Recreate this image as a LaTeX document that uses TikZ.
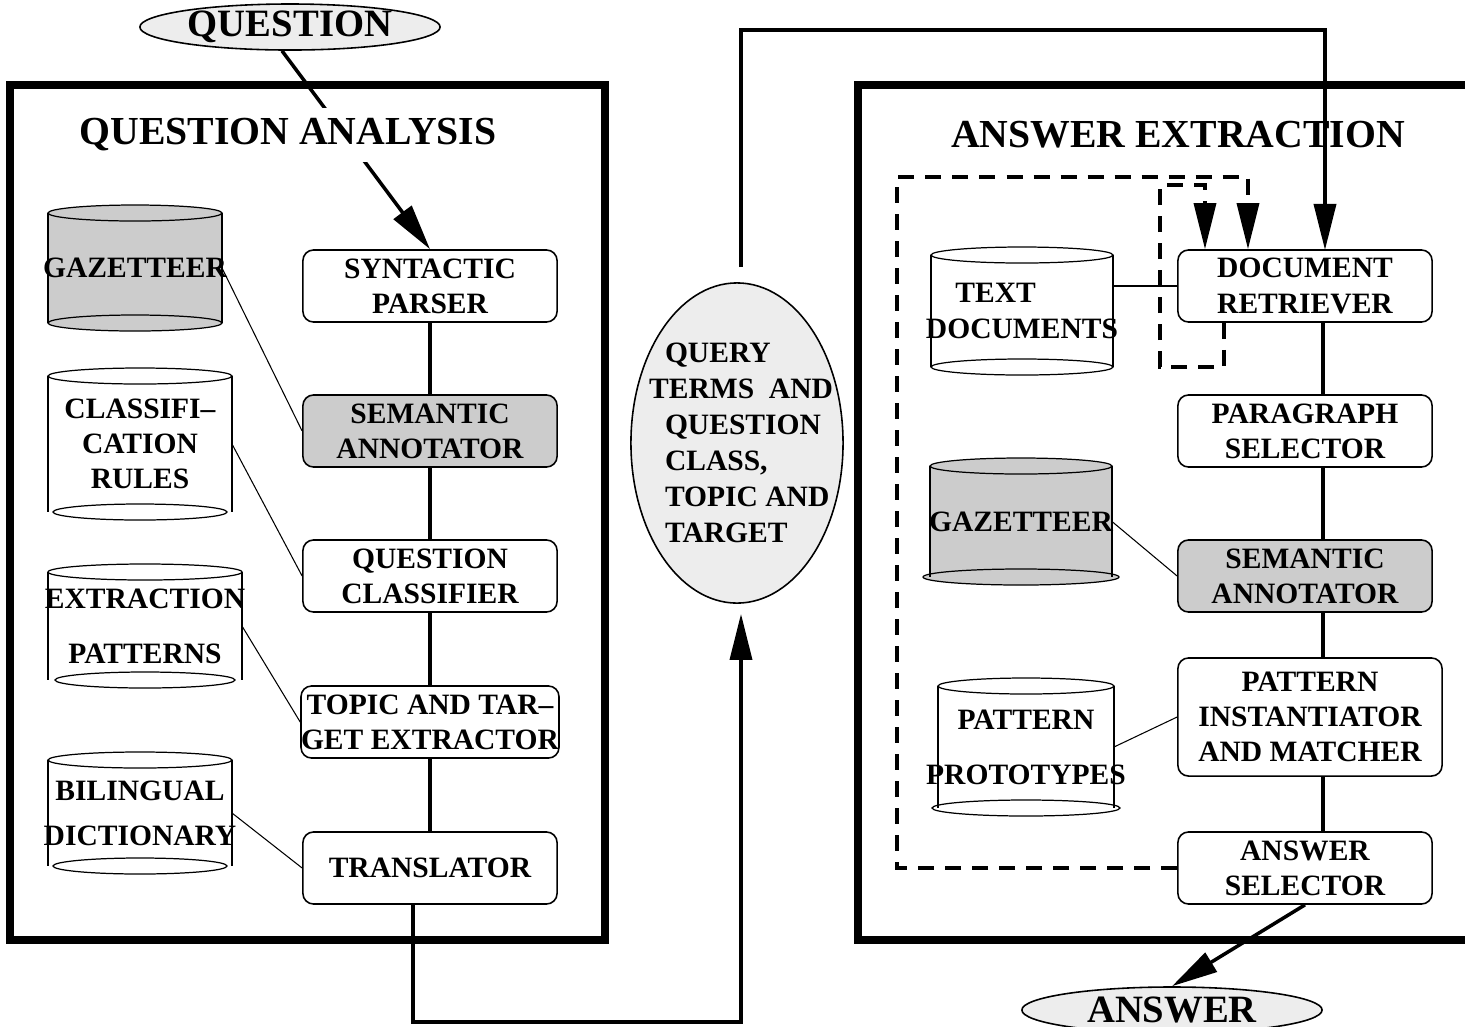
\documentclass[tikz,border=0pt]{standalone}
\usepackage{fontspec}
\setmainfont{Liberation Serif}
\usetikzlibrary{arrows.meta,shapes.geometric}

\definecolor{shadecolor}{gray}{0.8}
\definecolor{bubblecolor}{gray}{0.93}
\newcommand{\boxfont}{\fontsize{8.4}{10}\selectfont\bfseries}
\newcommand{\bubblefont}{\fontsize{8.4}{10.2}\selectfont\bfseries}
\newcommand{\titlefont}{\fontsize{11.3}{13}\selectfont\bfseries}

\tikzset{
  process/.style={draw, fill=white, rounded corners=3pt, line width=0.45pt,
    minimum width=2.54cm, minimum height=0.72cm, inner sep=0pt,
    align=center, font=\boxfont},
  bubble/.style={ellipse, draw, fill=bubblecolor, inner sep=0pt, line width=0.45pt},
  dbline/.style={line width=0.35pt},
  dbtext/.style={align=center, font=\boxfont, inner sep=0pt},
  link/.style={line width=1pt},
  thinlink/.style={line width=0.3pt},
  feedback/.style={line width=1pt, dash pattern=on 0.16cm off 0.11cm},
  bigarrow/.style={-{Triangle[length=0.46cm,width=0.22cm]}},
  panel/.style={line width=2.1pt},
}

% name, centre x, half width, top y, bottom y, fill, bottom half width, label
\newcommand{\dbstore}[8]{%
  \fill[#6] (#2-#3,#4) rectangle (#2+#3,#5);
  \draw[dbline, fill=#6] (#2,#5) ellipse [x radius=#7, y radius=8];
  \draw[dbline, fill=#6] (#2,#4) ellipse [x radius=#3, y radius=8];
  \draw[dbline] (#2-#3,#4) -- (#2-#3,#5) (#2+#3,#4) -- (#2+#3,#5);
  \coordinate (#1-e) at (#2+#3,{(#4+#5)/2});
  \node[dbtext] (#1) at (#2,{(#4+#5)/2}) {#8};
}

\begin{document}
\begin{tikzpicture}[x=0.01cm, y=-0.01cm]
\clip (0,0) rectangle (1465,1026);

% panels
\draw[panel] (10,85) rectangle (605,940);
\draw[panel] (858,85) rectangle (1500,940);

% QUESTION ANALYSIS
\node[process] (syn) at (430,286) {SYNTACTIC\\PARSER};
\node[process, fill=shadecolor] (sem1) at (430,431) {SEMANTIC\\ANNOTATOR};
\node[process] (qcl) at (430,576) {QUESTION\\CLASSIFIER};
\node[process] (topic) at (430,722) {TOPIC AND TAR--\\GET EXTRACTOR};
\node[process] (trans) at (430,868) {TRANSLATOR};

\dbstore{gazl}{135}{87}{213}{323}{shadecolor}{87}{GAZETTEER}
\dbstore{rules}{140}{92}{376}{512}{white}{87}{CLASSIFI--\\CATION\\RULES}
\dbstore{extr}{145}{97}{572}{680}{white}{90}{EXTRACTION\\[5.7pt]PATTERNS}
\dbstore{bil}{140}{92}{760}{866}{white}{87}{BILINGUAL\\[2.8pt]DICTIONARY}

\draw[link] (syn) -- (sem1);
\draw[link] (sem1) -- (qcl);
\draw[link] (qcl) -- (topic);
\draw[link] (topic) -- (trans);

\draw[thinlink] (gazl-e) -- (sem1.west);
\draw[thinlink] (rules-e) -- (qcl.west);
\draw[thinlink] (extr-e) -- (topic.west);
\draw[thinlink] (bil-e) -- (trans.west);

% question in
\node[bubble, minimum width=3cm, minimum height=0.46cm, font=\fontsize{11}{13}\selectfont\bfseries]
  (question) at (290,27) {QUESTION};
\draw[link, bigarrow] ([xshift=-0.08cm]question.south) -- (syn.north);
\node[fill=white, inner sep=3pt, font=\titlefont] (qtitle) at (288,135) {QUESTION ANALYSIS};

% query terms
\node[bubble, minimum width=2.12cm, minimum height=3.2cm] (query) at (737,443) {};
\node[dbtext, align=left, font=\bubblefont] (querytxt) at ([xshift=0.12cm]query)
  {QUERY\\\hspace*{-4.5pt}TERMS\ \ AND\\QUESTION\\CLASS,\\TOPIC AND\\TARGET};

\coordinate (botturn) at (741,1022);
\coordinate (topturn) at (1325,30);
\draw[link, bigarrow, shorten >=0.1cm] ([xshift=-0.17cm]trans.south) |- (botturn) -- (botturn |- query.south);
\draw[link, bigarrow, shorten <=0.15cm] ([xshift=0.04cm]query.north) |- (topturn) -- (topturn |- 0,250);

% ANSWER EXTRACTION
\node[font=\titlefont] (atitle) at (1178,135) {ANSWER EXTRACTION};
\node[process] (retr) at (1305,286) {DOCUMENT\\RETRIEVER};
\node[process] (para) at (1305,431) {PARAGRAPH\\SELECTOR};
\node[process, fill=shadecolor] (sem2) at (1305,576) {SEMANTIC\\ANNOTATOR};
\node[process, minimum width=2.64cm, minimum height=1.18cm] (pim) at (1310,717)
  {PATTERN\\INSTANTIATOR\\AND MATCHER};
\node[process] (asel) at (1305,868) {ANSWER\\SELECTOR};

\dbstore{docs}{1022}{91}{255}{367}{white}{91}{\hspace*{-15pt}TEXT\\DOCUMENTS}
\dbstore{gazr}{1021}{91}{466}{577}{shadecolor}{98}{GAZETTEER}
\dbstore{proto}{1026}{88}{686}{808}{white}{94}{PATTERN\\[5.7pt]PROTOTYPES}

\coordinate (rcol) at (1323,0);
\draw[link] (retr.south -| rcol) -- (para.north -| rcol);
\draw[link] (para.south -| rcol) -- (sem2.north -| rcol);
\draw[link] (sem2.south -| rcol) -- (pim.north -| rcol);
\draw[link] (pim.south -| rcol) -- (asel.north -| rcol);

\draw[thinlink] (retr.west) -- (retr.west -| docs-e);
\draw[thinlink] (gazr-e) -- (sem2.west);
\draw[thinlink] (proto-e) -- (pim.west);

% feedback loops
\coordinate (outerloop) at (897,177);
\coordinate (outerdrop) at (1248,177);
\draw[feedback, bigarrow] (asel.west) -| (outerloop) -- (outerdrop) -- (outerdrop |- retr.north);
\coordinate (innerloop) at (1224,367);
\coordinate (innerturn) at (1160,185);
\coordinate (innerdrop) at (1205,185);
\draw[feedback, bigarrow] (innerloop |- retr.south) -- (innerloop) -| (innerturn) -- (innerdrop) -- (innerdrop |- retr.north);

% answer out
\node[bubble, minimum width=3cm, minimum height=0.46cm, font=\fontsize{11}{13}\selectfont\bfseries]
  (answer) at (1172,1010) {ANSWER};
\draw[link, bigarrow] (asel.south) -- (answer.north);
\end{tikzpicture}
\end{document}
